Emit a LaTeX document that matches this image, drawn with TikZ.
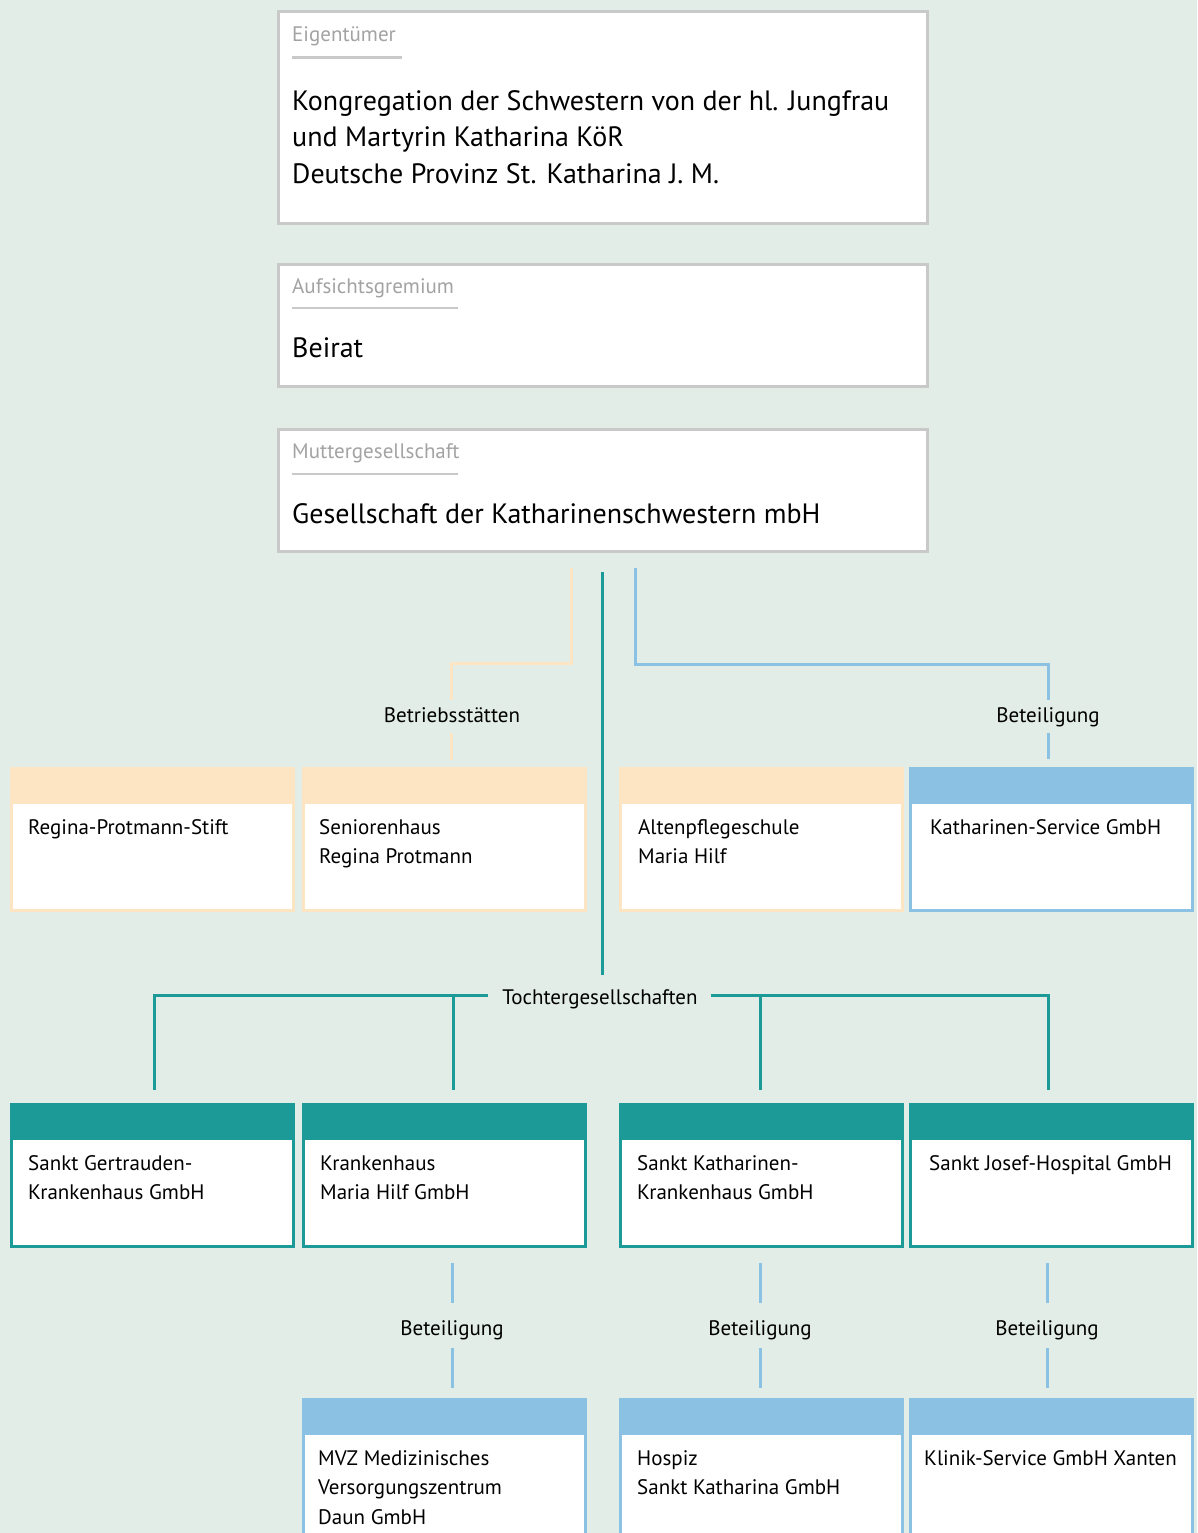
\documentclass[tikz,border=0pt]{standalone}
\usepackage{fontspec}
\setmainfont{PT Sans}
\definecolor{bgc}{HTML}{E1EDE6}
\definecolor{grayb}{HTML}{C9C9C9}
\definecolor{grayt}{HTML}{A3A3A3}
\definecolor{peachc}{HTML}{FDE5C4}
\definecolor{tealc}{HTML}{1C9A98}
\definecolor{bluec}{HTML}{8BC2E4}
\tikzset{
  topbox/.style={draw=grayb, line width=3pt, fill=white, anchor=north west, outer sep=0pt, inner sep=0pt, minimum width=649pt},
  orgbox/.style={draw=#1, line width=3pt, fill=white, anchor=north west, outer sep=0pt, inner sep=0pt,
     minimum width=282pt, minimum height=142pt,
     path picture={\fill[#1] (path picture bounding box.north west) rectangle ([yshift=-35.5pt]path picture bounding box.north east);}},
  hdrtxt/.style={font=\fontsize{21}{25}\selectfont, text=grayt, inner sep=0pt, anchor=base west},
  bigtxt/.style={font=\fontsize{28}{36.5}\selectfont, inner sep=0pt, anchor=base west, align=left},
  boxtxt/.style={font=\fontsize{21}{29.5}\selectfont, inner sep=0pt, anchor=north west, align=left},
  lbl/.style={font=\fontsize{21}{25}\selectfont, inner sep=0pt, anchor=base},
  conn/.style={line width=3pt, draw=#1},
  uline/.style={line width=2.8pt, draw=grayb}
}
\begin{document}
\begin{tikzpicture}[x=1pt,y=-1pt]
\useasboundingbox[fill=bgc] (0,0) rectangle (1197,1533);
\clip (0,0) rectangle (1197,1533);
% top boxes
\node[topbox, minimum height=212pt] (own) at (278.5,11.5) {};
\node[topbox, minimum height=122pt] (sup) at (278.5,264.5) {};
\node[topbox, minimum height=122pt] (mum) at (278.5,429.5) {};
\node[hdrtxt] (ownh) at (292,42) {Eigentümer};
\draw[uline] (292,57.5) -- (402,57.5);
\node[bigtxt] (ownt) at (292,183) {Kongregation der Schwestern von der hl. Jungfrau\\und Martyrin Katharina KöR\\Deutsche Provinz St. Katharina J. M.};
\node[hdrtxt] (suph) at (292,293) {Aufsichtsgremium};
\draw[uline] (292,308) -- (458,308);
\node[bigtxt] (supt) at (292,357) {Beirat};
\node[hdrtxt] (mumh) at (292,458) {Muttergesellschaft};
\draw[uline] (292,474) -- (458,474);
\node[bigtxt] (mumt) at (292,523) {Gesellschaft der Katharinenschwestern mbH};

% row 1
\node[orgbox=peachc] (a1) at (11.5,768.5) {};
\node[orgbox=peachc] (b1) at (303.5,768.5) {};
\node[orgbox=peachc] (c1) at (620.5,768.5) {};
\node[orgbox=bluec] (d1) at (910.5,768.5) {};
\node[boxtxt] (a1t) at (28,813.35) {\strut Regina-Protmann-Stift};
\node[boxtxt] (b1t) at (319,813.35) {\strut Seniorenhaus\\Regina Protmann};
\node[boxtxt] (c1t) at (638,813.35) {\strut Altenpflegeschule\\Maria Hilf};
\node[boxtxt] (d1t) at (930,813.35) {\strut Katharinen-Service GmbH};

% row 2
\node[orgbox=tealc] (a2) at (11.5,1104.5) {};
\node[orgbox=tealc] (b2) at (303.5,1104.5) {};
\node[orgbox=tealc] (c2) at (620.5,1104.5) {};
\node[orgbox=tealc] (d2) at (910.5,1104.5) {};
\node[boxtxt] (a2t) at (28,1149.35) {\strut Sankt Gertrauden-\\Krankenhaus GmbH};
\node[boxtxt] (b2t) at (320,1149.35) {\strut Krankenhaus\\Maria Hilf GmbH};
\node[boxtxt] (c2t) at (637,1149.35) {\strut Sankt Katharinen-\\Krankenhaus GmbH};
\node[boxtxt] (d2t) at (929,1149.35) {\strut Sankt Josef-Hospital GmbH};

% row 3
\node[orgbox=bluec, minimum height=200pt] (b3) at (303.5,1399.5) {};
\node[orgbox=bluec, minimum height=200pt] (c3) at (620.5,1399.5) {};
\node[orgbox=bluec, minimum height=200pt] (d3) at (910.5,1399.5) {};
\node[boxtxt] (b3t) at (318,1444.35) {\strut MVZ Medizinisches\\Versorgungszentrum\\Daun GmbH};
\node[boxtxt] (c3t) at (637,1444.35) {\strut Hospiz\\Sankt Katharina GmbH};
\node[boxtxt] (d3t) at (924,1444.35) {\strut Klinik-Service GmbH Xanten};

% labels
\node[lbl] (lbB) at (452,722) {Betriebsstätten};
\node[lbl] (lbK) at (1048,722) {Beteiligung};
\node[lbl] (lbT) at (600,1004) {Tochtergesellschaften};
\node[lbl] (lb1) at (452,1335) {Beteiligung};
\node[lbl] (lb2) at (760,1335) {Beteiligung};
\node[lbl] (lb3) at (1047,1335) {Beteiligung};

% connectors: Betriebsstaetten (peach)
\coordinate (pk0) at (571,568);
\coordinate (pk1) at (451,663);
\coordinate (pk2) at (451,700);
\coordinate (pk3) at (451,733);
\coordinate (pk4) at (451,760);
\draw[conn=peachc] (pk0) |- (pk1) -- (pk2);
\draw[conn=peachc] (pk3) -- (pk4);
% Beteiligung (blue) to Katharinen-Service
\coordinate (bl0) at (635,568);
\coordinate (bl1) at (1048,664);
\coordinate (bl2) at (1048,700);
\coordinate (bl3) at (1048,733);
\coordinate (bl4) at (1048,759);
\draw[conn=bluec] (bl0) |- (bl1) -- (bl2);
\draw[conn=bluec] (bl3) -- (bl4);
% Tochtergesellschaften (teal)
\coordinate (tc0) at (602,572);
\coordinate (tc1) at (602,975);
\coordinate (tL) at (488,995);
\coordinate (tR) at (711,995);
\coordinate (t1) at (154,1090);
\coordinate (t2) at (453,1090);
\coordinate (t3) at (760,1090);
\coordinate (t4) at (1048,1090);
\draw[conn=tealc] (tc0) -- (tc1);
\draw[conn=tealc] (tL) -| (t1);
\draw[conn=tealc] (tL -| t2) -- (t2);
\draw[conn=tealc] (tR) -| (t4);
\draw[conn=tealc] (tR -| t3) -- (t3);
% Beteiligungen below
\foreach \n/\x in {1/452,2/760,3/1047}{
  \coordinate (u\n a) at (\x,1263);
  \coordinate (u\n b) at (\x,1303);
  \coordinate (u\n c) at (\x,1348);
  \coordinate (u\n d) at (\x,1388);
  \draw[conn=bluec] (u\n a) -- (u\n b);
  \draw[conn=bluec] (u\n c) -- (u\n d);
}
\end{tikzpicture}
\end{document}
